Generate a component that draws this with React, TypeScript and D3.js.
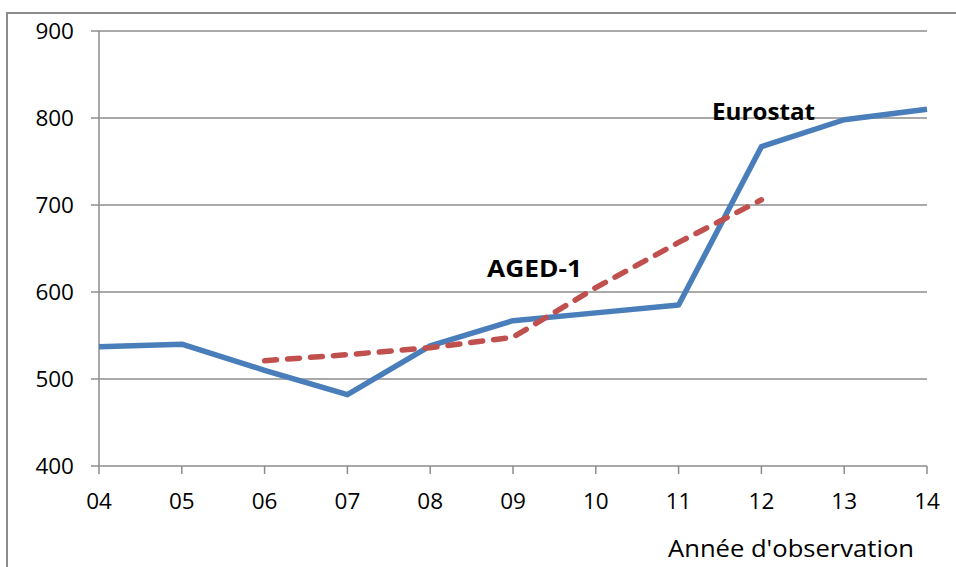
import React from "react";
import * as d3 from "d3";

const years = ["04", "05", "06", "07", "08", "09", "10", "11", "12", "13", "14"];
const eurostat = [537, 540, 510, 482, 538, 567, 576, 585, 767, 798, 810];
const agedYears = ["06", "07", "08", "09", "10", "11", "12"];
const aged = [521, 528, 536, 548, 605, 657, 706];
const yTicks = [400, 500, 600, 700, 800, 900];

const W = 956;
const H = 567;
const FONT = "'Open Sans', 'Liberation Sans', sans-serif";

export default function App() {
  const x = d3.scalePoint<string>().domain(years).range([99, 927]);
  const y = d3.scaleLinear().domain([400, 900]).range([466, 31]);

  const line = d3
    .line<[string, number]>()
    .x((d) => x(d[0]) as number)
    .y((d) => y(d[1]));

  const eurPath = line(years.map((yr, i) => [yr, eurostat[i]] as [string, number])) || "";
  const agedPath = line(agedYears.map((yr, i) => [yr, aged[i]] as [string, number])) || "";

  return (
    <svg
      width={W}
      height={H}
      style={{ position: "absolute", left: 0, top: 0, background: "#fff" }}
    >
      {/* outer frame */}
      <rect x={7} y={13} width={W + 20} height={H + 20} fill="none" stroke="#8c8c8c" strokeWidth={2} />

      {/* gridlines */}
      {yTicks.map((t) => (
        <g key={t}>
          {t > 400 && (
            <line x1={99} x2={927} y1={y(t)} y2={y(t)} stroke="#8c8c8c" strokeWidth={1.5} />
          )}
          <line x1={91} x2={99} y1={y(t)} y2={y(t)} stroke="#8c8c8c" strokeWidth={1.5} />
          <text
            x={74}
            y={y(t)}
            dy="0.36em"
            textAnchor="end"
            fontFamily={FONT}
            fontSize={22.5}
            fill="#000"
          >
            {t}
          </text>
        </g>
      ))}

      {/* y axis */}
      <line x1={99} x2={99} y1={y(900)} y2={y(400)} stroke="#8c8c8c" strokeWidth={1.5} />
      {/* x axis */}
      <line x1={99} x2={927} y1={y(400)} y2={y(400)} stroke="#8c8c8c" strokeWidth={1.5} />
      {years.map((yr) => (
        <g key={yr}>
          <line
            x1={x(yr) as number}
            x2={x(yr) as number}
            y1={y(400)}
            y2={y(400) + 8}
            stroke="#8c8c8c"
            strokeWidth={1.5}
          />
          <text
            x={x(yr) as number}
            y={501}
            dy="0.36em"
            textAnchor="middle"
            fontFamily={FONT}
            fontSize={22.5}
            fill="#000"
          >
            {yr}
          </text>
        </g>
      ))}

      <text
        x={668}
        y={557}
        textLength={246}
        lengthAdjust="spacingAndGlyphs"
        fontFamily={FONT}
        fontSize={23}
        fill="#000"
      >
        Année d'observation
      </text>

      {/* series */}
      <path d={eurPath} fill="none" stroke="#4a7ebb" strokeWidth={5.5} strokeLinejoin="round" />
      <path
        d={agedPath}
        fill="none"
        stroke="#c0504d"
        strokeWidth={5.5}
        strokeDasharray="12 11"
        strokeLinecap="round"
        strokeLinejoin="round"
      />

      {/* labels */}
      <text
        x={712}
        y={120}
        textLength={103}
        lengthAdjust="spacingAndGlyphs"
        fontFamily={FONT}
        fontWeight="bold"
        fontSize={23}
        fill="#000"
      >
        Eurostat
      </text>
      <text
        x={487}
        y={277}
        textLength={95}
        lengthAdjust="spacingAndGlyphs"
        fontFamily={FONT}
        fontWeight="bold"
        fontSize={23}
        fill="#000"
      >
        AGED-1
      </text>
    </svg>
  );
}
